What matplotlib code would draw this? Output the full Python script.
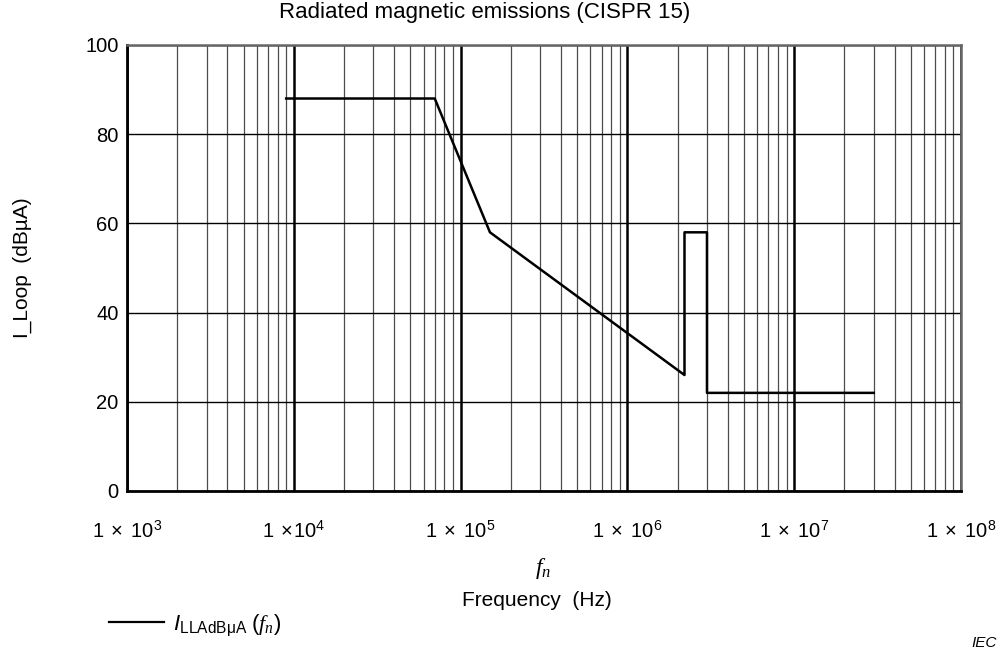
import matplotlib
matplotlib.use('Agg')
import matplotlib.pyplot as plt
from matplotlib.lines import Line2D
from matplotlib.ticker import FixedLocator, LogLocator, NullFormatter

plt.rcParams['font.family'] = ['Liberation Sans', 'DejaVu Sans']
plt.rcParams['mathtext.fontset'] = 'custom'
plt.rcParams['mathtext.rm'] = 'Liberation Sans'
plt.rcParams['mathtext.it'] = 'Liberation Serif:italic'
plt.rcParams['mathtext.sf'] = 'Liberation Sans:italic'

# CISPR 15 loop-current limit
freq_hz = [9e3, 7e4, 1.5e5, 2.2e6, 2.2e6, 3e6, 3e6, 3e7]
level_dbua = [88, 88, 58, 26, 58, 58, 22, 22]

x_ticks = [1e3, 1e4, 1e5, 1e6, 1e7, 1e8]
x_tick_labels = [r'$1\ \times\ 10^{3}$', r'$1\ \times\!10^{4}$', r'$1\ \times\ 10^{5}$',
                 r'$1\ \times\ 10^{6}$', r'$1\ \times\ 10^{7}$', r'$1\ \times\ 10^{8}$']
y_ticks = [0, 20, 40, 60, 80, 100]

fig = plt.figure(figsize=(10.07, 6.53), dpi=100)
ax = fig.add_axes([0.1261, 0.2481, 0.8282, 0.6830])

ax.plot(freq_hz, level_dbua, color='black', lw=1.8, zorder=3)

ax.set_xscale('log')
ax.set_xlim(1e3, 1e8)
ax.set_ylim(0, 100)

ax.xaxis.set_major_locator(FixedLocator(x_ticks))
ax.set_xticklabels(x_tick_labels)
ax.xaxis.set_minor_locator(LogLocator(base=10, subs=range(2, 10), numticks=100))
ax.xaxis.set_minor_formatter(NullFormatter())
ax.set_yticks(y_ticks)

ax.grid(True, which='major', axis='x', color='black', lw=1.8)
ax.grid(True, which='minor', axis='x', color='0.3', lw=0.9)
ax.grid(True, which='major', axis='y', color='black', lw=1.0)

ax.tick_params(axis='both', which='both', length=0, labelsize=14.5)
ax.tick_params(axis='x', pad=21)
ax.tick_params(axis='y', pad=6)

for side in ['left', 'bottom']:
    ax.spines[side].set_linewidth(2)
    ax.spines[side].set_color('black')
for side in ['top', 'right']:
    ax.spines[side].set_linewidth(1.8)
    ax.spines[side].set_color('0.4')

fig.text(0.4816, 0.9816, 'Radiated magnetic emissions (CISPR 15)', ha='center', va='center', fontsize=16)
fig.text(0.022, 0.59, 'I_Loop  (dBµA)', rotation=90, ha='center', va='center', fontsize=15)
fig.text(0.539, 0.13, r'$f_n$', ha='center', va='center', fontsize=17)
fig.text(0.5335, 0.081, 'Frequency  (Hz)', ha='center', va='center', fontsize=15)
fig.text(0.965, 0.016, 'IEC', ha='left', va='center', fontsize=11, style='italic')

handle = Line2D([], [], color='black', lw=1.6)
fig.legend([handle], [r'$\mathsf{I}_{\mathrm{LLAdB\mu A}}\ (f_n)$'], loc='center left',
           bbox_to_anchor=(0.108, 0.043), frameon=False, fontsize=16,
           handlelength=2.5, handletextpad=0.4, borderpad=0, borderaxespad=0)

fig.savefig('out.png', dpi=100)
